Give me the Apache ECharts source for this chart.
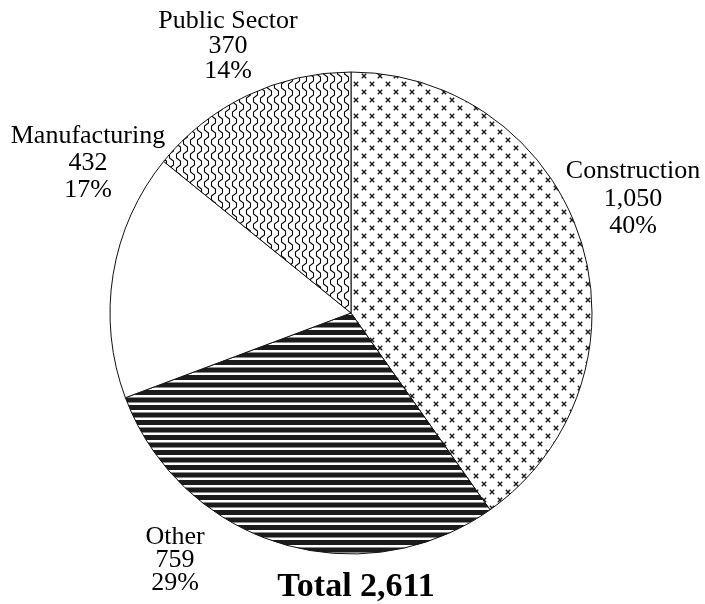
<!DOCTYPE html>
<html>
<head>
<meta charset="utf-8">
<script src="https://cdn.jsdelivr.net/npm/echarts@6/dist/echarts.min.js"></script>
<style>
  html, body { margin: 0; padding: 0; background: #fff; }
  #chart { width: 705px; height: 604px; }
</style>
</head>
<body>
<div id="chart"></div>
<script>
// Employment by sector
const categories = ['Construction', 'Other', 'Manufacturing', 'Public Sector'];
const values = [1050, 759, 432, 370];
const percents = ['40%', '29%', '17%', '14%'];
const totalLabel = 'Total 2,611';

// Fill patterns, drawn on small tiles
function tile(w, h, draw) {
  const c = document.createElement('canvas');
  c.width = w; c.height = h;
  const ctx = c.getContext('2d');
  ctx.fillStyle = '#fff';
  ctx.fillRect(0, 0, w, h);
  draw(ctx);
  return { image: c, repeat: 'repeat' };
}

const crossFill = tile(16, 16, ctx => {
  ctx.strokeStyle = '#1a1a1a';
  ctx.lineWidth = 1.4;
  [[4, 4], [12, 12]].forEach(([cx, cy]) => {
    ctx.beginPath();
    ctx.moveTo(cx - 2.2, cy - 2.2); ctx.lineTo(cx + 2.2, cy + 2.2);
    ctx.moveTo(cx + 2.2, cy - 2.2); ctx.lineTo(cx - 2.2, cy + 2.2);
    ctx.stroke();
  });
});

const stripeFill = tile(8, 15, ctx => {
  ctx.fillStyle = '#1b1b1b';
  ctx.fillRect(0, 0, 8, 5);
  ctx.fillRect(0, 7.5, 8, 5);
});

const zigzagFill = tile(7, 14, ctx => {
  ctx.strokeStyle = '#000';
  ctx.lineWidth = 1.1;
  ctx.beginPath();
  ctx.moveTo(1.5, -1); ctx.lineTo(1.5, 4); ctx.lineTo(5.5, 7);
  ctx.lineTo(5.5, 11); ctx.lineTo(1.5, 14); ctx.lineTo(1.5, 15);
  ctx.stroke();
});

const fills = [crossFill, stripeFill, '#ffffff', zigzagFill];

// Label anchor points (centre of each three-line label) and line spacing
const labelSpots = [[633, 199], [175, 560], [88, 163], [228, 46]];
const labelLeading = [27.5, 23, 27, 25];

const chart = echarts.init(document.getElementById('chart'), null, { renderer: 'canvas' });
chart.setOption({
  animation: false,
  backgroundColor: '#ffffff',
  textStyle: { fontFamily: 'Liberation Serif' },
  title: {
    text: totalLabel,
    left: 351, top: 565, textAlign: 'center',
    textStyle: { fontFamily: 'Liberation Serif', fontWeight: 'bold', fontSize: 34, color: '#000' }
  },
  series: [{
    type: 'pie',
    center: [351, 313],
    radius: [0, 241],
    startAngle: 90,
    clockwise: true,
    data: categories.map((name, i) => ({
      name, value: values[i],
      itemStyle: { color: fills[i] },
      label: { lineHeight: labelLeading[i] }
    })),
    itemStyle: { borderColor: '#111', borderWidth: 1 },
    emphasis: { disabled: true },
    labelLine: { show: false },
    label: {
      show: true,
      position: 'outside',
      overflow: 'none',
      width: 300,
      fontFamily: 'Liberation Serif',
      fontSize: 26,
      lineHeight: 25,
      color: '#000',
      align: 'center',
      formatter: p => p.name + '\n' + p.value.toLocaleString('en-US') + '\n' + percents[p.dataIndex]
    },
    labelLayout: p => {
      const s = labelSpots[p.dataIndex];
      return { x: s[0], y: s[1], align: 'center', verticalAlign: 'middle' };
    }
  }]
});
</script>
</body>
</html>
